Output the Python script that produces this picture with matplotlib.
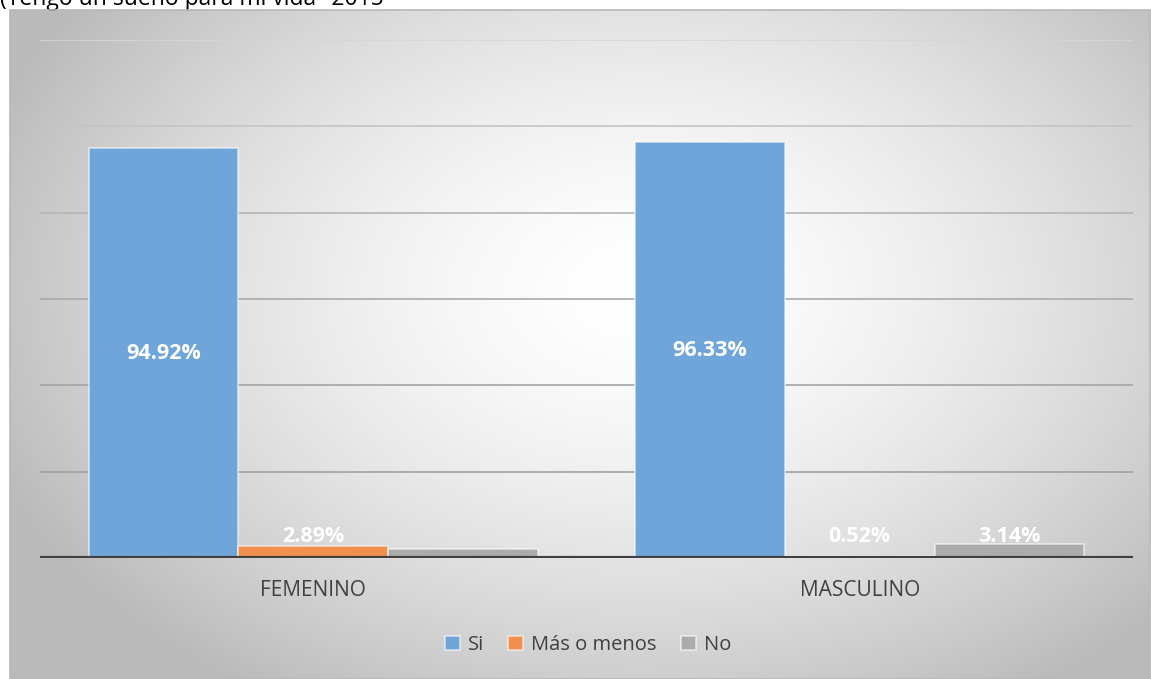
import numpy as np
import matplotlib.pyplot as plt
from matplotlib.patches import Rectangle

# Data
categories = ["FEMENINO", "MASCULINO"]
series_names = ["Si", "Más o menos", "No"]
si_vals = [94.92, 96.33]
mas_vals = [2.89, 0.52]
no_vals = [2.19, 3.14]
# which labels are shown in the reference (the 2.19% one is not)
show_label = [[True, True], [True, True], [False, True]]
title_text = "(Tengo un sueño para mi vida\" 2015"

colors = ["#6FA5D8", "#F0904C", "#ABABAB"]

plt.rcParams['font.family'] = ['Open Sans', 'DejaVu Sans']

W, H = 1151, 679
fig = plt.figure(figsize=(W / 100, H / 100), dpi=100)
fig.patch.set_facecolor("white")

# chart area with radial gradient background
x0, y0, x1, y1 = 10, 10, 1150, 679
bg = fig.add_axes([x0 / W, 1 - y1 / H, (x1 - x0) / W, (y1 - y0) / H])
yy, xx = np.mgrid[y0:y1, x0:x1]
d = np.sqrt(((xx - 640) / 700.0) ** 2 + ((yy - 290) / 480.0) ** 2)
g = 1.0 - 0.27 * np.clip(d, 0, 1) ** 1.6
bg.imshow(np.dstack([g, g, g]), aspect="auto", interpolation="bilinear")
bg.set_axis_off()
fig.patches.append(Rectangle((x0 / W, 0), (x1 - x0) / W, (y1 - y0) / H,
                             transform=fig.transFigure, fill=False,
                             edgecolor="#b8b8b8", lw=1.2, zorder=5))

# plot area
ax = fig.add_axes([40 / W, 1 - 558 / H, 1093 / W, 518 / H])
ax.set_facecolor("none")
ax.set_xlim(-0.5, 1.5)
ax.set_ylim(0, 120)

x = np.arange(len(categories))
bw = 0.274
all_vals = [si_vals, mas_vals, no_vals]
for i, vals in enumerate(all_vals):
    pos = x + (i - 1) * bw
    ax.bar(pos, vals, width=bw, color=colors[i], edgecolor=(1, 1, 1, 0.6),
           linewidth=1.2, label=series_names[i], zorder=3)
    for j, v in enumerate(vals):
        if not show_label[i][j]:
            continue
        txt = "{:.2f}%".format(v)
        if i == 0:
            ax.text(pos[j], v / 2, txt, ha="center", va="center", color="white",
                    fontsize=15.5, fontweight="bold", zorder=4)
        else:
            # small labels sit on one line just above the axis
            ax.text(pos[j], 4.9, txt, ha="center", va="center", color="white",
                    fontsize=15.5, fontweight="bold", zorder=4)

# gridlines (lighter towards the top)
grid_cols = {20: "#a0a0a0", 40: "#a4a4a4", 60: "#aaaaaa", 80: "#b4b4b4", 100: "#c4c4c4", 120: "#d6d6d6"}
for yv, c in grid_cols.items():
    ax.axhline(yv, color=c, lw=1.2, zorder=1)
ax.axhline(0, color="#404040", lw=3, zorder=5)

for s in ax.spines.values():
    s.set_visible(False)
ax.set_yticks([])
ax.set_xticks(x)
ax.set_xticklabels(categories, fontsize=15, color="#404040")
ax.tick_params(axis="x", length=0, pad=16)

fig.legend(loc="center", bbox_to_anchor=(588 / W, 1 - 645 / H), ncol=3,
           frameon=False, fontsize=14.5, handlelength=0.75, handleheight=0.75,
           handletextpad=0.4, columnspacing=1.2, labelcolor="#404040")

fig.text(0.0, 1 - 5 / H, title_text, ha="left", va="baseline", fontsize=16.5, color="black")

fig.savefig("out.png", dpi=100)
